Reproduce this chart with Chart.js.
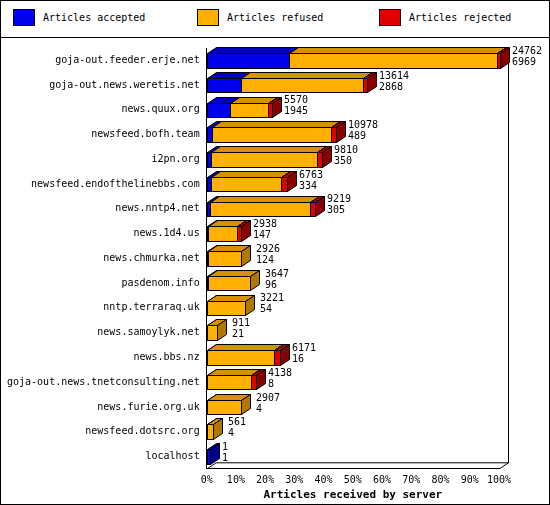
<!DOCTYPE html>
<html>
<head>
<meta charset="utf-8">
<script src="https://cdn.jsdelivr.net/npm/chart.js@4/dist/chart.umd.min.js"></script>
<style>
  body { margin: 0; background: #fff; }
  #wrap { width: 548px; height: 503px; border: 1px solid #000; position: relative; font-family: "DejaVu Sans Mono", monospace; font-size: 10px; }
  #legend { height: 36px; border-bottom: 1px solid #000; position: relative; }
  .item { position: absolute; top: 8px; display: flex; align-items: center; }
  .box { width: 22px; height: 17px; margin-right: 8px; border: 1px solid #000; box-sizing: border-box; }
  #holder { position: absolute; left: 0; top: 37px; width: 548px; height: 466px; }
</style>
</head>
<body>
<div id="wrap">
  <div id="legend">
    <div class="item" style="left:12px"><div class="box" style="background:#0000f0"></div>Articles accepted</div>
    <div class="item" style="left:196px"><div class="box" style="background:#ffb000"></div>Articles refused</div>
    <div class="item" style="left:378px"><div class="box" style="background:#e00000"></div>Articles rejected</div>
  </div>
  <div id="holder"><canvas id="c"></canvas></div>
</div>
<script>
// serveurs et compteurs
const servers = ["goja-out.feeder.erje.net", "goja-out.news.weretis.net", "news.quux.org", "newsfeed.bofh.team", "i2pn.org", "newsfeed.endofthelinebbs.com", "news.nntp4.net", "news.1d4.us", "news.chmurka.net", "pasdenom.info", "nntp.terraraq.uk", "news.samoylyk.net", "news.bbs.nz", "goja-out.news.tnetconsulting.net", "news.furie.org.uk", "newsfeed.dotsrc.org", "localhost"];
const totals = [24762, 13614, 5570, 10978, 9810, 6763, 9219, 2938, 2926, 3647, 3221, 911, 6171, 4138, 2907, 561, 1];
const accepted = [6969, 2868, 1945, 489, 350, 334, 305, 147, 124, 96, 54, 21, 16, 8, 4, 4, 1];
const rejected = [150, 350, 400, 450, 500, 500, 500, 400, 0, 0, 0, 0, 500, 400, 0, 0, 0];
const refused = totals.map((t, i) => t - accepted[i] - rejected[i]);
const maxTotal = Math.max(...totals);

const colors = [
  { front: "#0000f0", top: "#0000c0", side: "#000090" },
  { front: "#ffb000", top: "#d89000", side: "#b07800" },
  { front: "#e00000", top: "#b00000", side: "#880000" },
];
const DX = 9, DY = 6;

const bars3d = {
  id: "bars3d",
  afterDatasetsDraw(chart) {
    const ctx = chart.ctx;
    const area = chart.chartArea;
    ctx.save();
    ctx.strokeStyle = "#000";
    ctx.lineWidth = 1;
    // mur du fond
    ctx.beginPath();
    ctx.moveTo(area.right + DX + 0.5, area.top);
    ctx.lineTo(area.right + DX + 0.5, area.bottom - DY);
    ctx.moveTo(area.left + 0.5, area.bottom);
    ctx.lineTo(area.left + DX + 0.5, area.bottom - DY);
    ctx.lineTo(area.right + DX + 0.5, area.bottom - DY);
    ctx.lineTo(area.right + 0.5, area.bottom);
    ctx.stroke();
    for (let d = 0; d < 3; d++) {
      const meta = chart.getDatasetMeta(d);
      meta.data.forEach((bar, i) => {
        const x0 = Math.round(bar.base);
        let x1 = Math.round(bar.x);
        const v = chart.data.datasets[d].data[i];
        if (!v) return;
        if (x1 - x0 < 3) x1 = x0 + 3;
        const h = bar.height, y0 = Math.round(bar.y - h / 2), y1 = Math.round(bar.y + h / 2);
        const c = colors[d];
        ctx.fillStyle = c.front;
        ctx.fillRect(x0, y0, x1 - x0, y1 - y0);
        ctx.strokeRect(x0 + 0.5, y0 + 0.5, x1 - x0, y1 - y0);
        ctx.beginPath();
        ctx.moveTo(x0 + 0.5, y0 + 0.5);
        ctx.lineTo(x0 + DX + 0.5, y0 - DY + 0.5);
        ctx.lineTo(x1 + DX + 0.5, y0 - DY + 0.5);
        ctx.lineTo(x1 + 0.5, y0 + 0.5);
        ctx.closePath();
        ctx.fillStyle = c.top; ctx.fill(); ctx.stroke();
        ctx.beginPath();
        ctx.moveTo(x1 + 0.5, y0 + 0.5);
        ctx.lineTo(x1 + DX + 0.5, y0 - DY + 0.5);
        ctx.lineTo(x1 + DX + 0.5, y1 - DY + 0.5);
        ctx.lineTo(x1 + 0.5, y1 + 0.5);
        ctx.closePath();
        ctx.fillStyle = c.side; ctx.fill(); ctx.stroke();
      });
    }
    // valeurs à droite des barres
    ctx.fillStyle = "#000";
    ctx.font = "10px 'DejaVu Sans Mono', monospace";
    ctx.textBaseline = "middle";
    const meta = chart.getDatasetMeta(2);
    meta.data.forEach((bar, i) => {
      const x = Math.max(Math.round(bar.x), Math.round(bar.base) + 3) + DX + 3;
      ctx.fillText(String(totals[i]), x, bar.y - 9);
      ctx.fillText(String(accepted[i]), x, bar.y + 2);
    });
    ctx.restore();
  },
};

new Chart(document.getElementById("c"), {
  type: "bar",
  data: {
    labels: servers,
    datasets: [
      { label: "Articles accepted", data: accepted },
      { label: "Articles refused", data: refused },
      { label: "Articles rejected", data: rejected },
    ].map((ds) => ({ ...ds, backgroundColor: "rgba(0,0,0,0)", borderWidth: 0, barPercentage: 0.58, categoryPercentage: 1 })),
  },
  options: {
    indexAxis: "y",
    responsive: true,
    maintainAspectRatio: false,
    animation: false,
    layout: { padding: { top: 8, right: 50, left: 2, bottom: 0 } },
    plugins: { legend: { display: false }, tooltip: { enabled: false } },
    scales: {
      x: {
        stacked: true,
        min: 0,
        max: maxTotal,
        afterBuildTicks: (axis) => {
          axis.ticks = Array.from({ length: 11 }, (_, k) => ({ value: (maxTotal * k) / 10 }));
        },
        ticks: {
          callback: (v) => Math.round((v / maxTotal) * 100) + "%",
          color: "#000",
          font: { family: "'DejaVu Sans Mono', monospace", size: 10 },
          maxRotation: 0,
          autoSkip: false,
          padding: 2,
        },
        grid: { display: false, drawTicks: true, tickLength: 4, color: "#000" },
        border: { color: "#000" },
        title: {
          display: true,
          text: "Articles received by server",
          color: "#000",
          font: { family: "'DejaVu Sans Mono', monospace", size: 11, weight: "bold" },
          padding: { top: 0, bottom: 2 },
        },
      },
      y: {
        stacked: true,
        ticks: { color: "#000", font: { family: "'DejaVu Sans Mono', monospace", size: 10 }, padding: 4 },
        grid: { display: false, tickLength: 3 },
        border: { color: "#000" },
      },
    },
  },
  plugins: [bars3d],
});
</script>
</body>
</html>
